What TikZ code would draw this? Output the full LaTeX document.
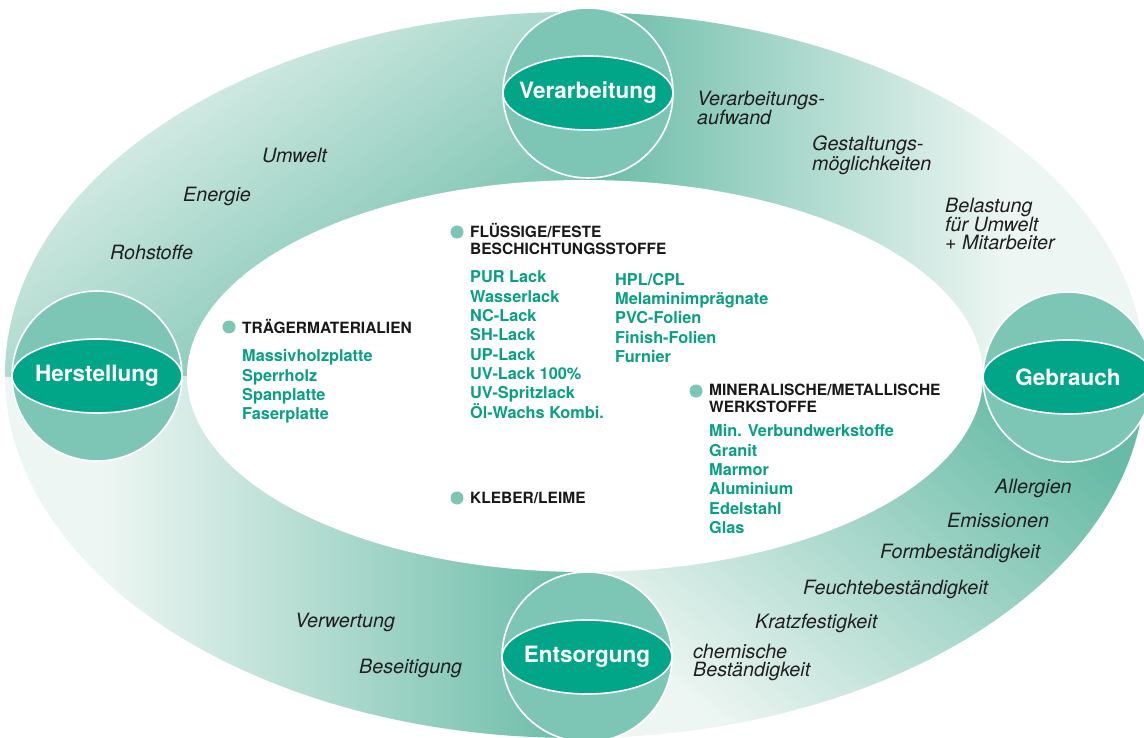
\documentclass[tikz,border=0pt]{standalone}
\usepackage{fontspec}
\setmainfont{TeX Gyre Heros}
\usetikzlibrary{shapes.geometric,positioning}

\definecolor{ballgreen}{RGB}{125,197,181}
\definecolor{bandgreen}{RGB}{0,166,135}
\definecolor{textgreen}{RGB}{8,160,130}
\definecolor{ringdark}{RGB}{104,187,166}
\definecolor{ringlight}{RGB}{238,246,243}

\begin{document}
\begin{tikzpicture}[x=1pt, y=-1pt,
    ball/.style={circle, fill=ballgreen, draw=white, line width=1.6pt, minimum size=170pt, inner sep=0pt},
    band/.style={ellipse, fill=bandgreen, draw=white, line width=1.6pt, minimum width=170pt, minimum height=74pt, inner sep=0pt},
    bandtext/.style={text=white, inner sep=0pt, font=\bfseries\fontsize{22.5}{22.5}\selectfont},
    ringtext/.style={anchor=west, align=left, inner sep=0pt, text=black!88, font=\itshape\fontsize{19.7}{18}\selectfont},
    head/.style={anchor=west, align=left, inner sep=0pt, text=black!90, font=\bfseries\fontsize{15.5}{17}\selectfont},
    items/.style={anchor=north west, align=left, inner sep=0pt, text=textgreen, font=\bfseries\fontsize{16.3}{19.3}\selectfont},
    dot/.style={circle, fill=ballgreen, minimum size=13pt, inner sep=0pt}]

    \useasboundingbox (0,0) rectangle (1144,738);

    % ring, shaded quarter by quarter
    \begin{scope}
        \clip (575,375) ellipse [x radius=570, y radius=363];
        \fill[ringlight] (0,0) rectangle (1144,738);
        \shade[top color=ringlight, bottom color=ringdark, shading angle=35] (0,0) rectangle (585,376);
        \shade[left color=ringdark, right color=ringlight] (585,0) rectangle (1010,376);
        \shade[left color=ringlight, right color=ringdark] (100,376) rectangle (585,738);
        \shade[top color=ringdark, bottom color=ringlight, shading angle=-40] (585,376) rectangle (1144,738);
    \end{scope}
    \fill[white] (585,376) ellipse [x radius=398, y radius=196];

    % texts on the ring
    \node[ringtext] (umwelt) at (262,155) {Umwelt};
    \node[ringtext] (energie) at (183,196) {Energie};
    \node[ringtext] (rohstoffe) at (110,252) {Rohstoffe};
    \node[ringtext] (aufwand) at (697,108) {Verarbeitungs-\\aufwand};
    \node[ringtext] (gestaltung) at (812,155) {Gestaltungs-\\möglichkeiten};
    \node[ringtext] (belastung) at (945,224) {Belastung\\für Umwelt\\+ Mitarbeiter};
    \node[ringtext] (allergien) at (995,488) {Allergien};
    \node[ringtext] (emissionen) at (947,520) {Emissionen};
    \node[ringtext] (form) at (880,553) {Formbeständigkeit};
    \node[ringtext] (feuchte) at (803,589) {Feuchtebeständigkeit};
    \node[ringtext] (kratz) at (755,623) {Kratzfestigkeit};
    \node[ringtext] (chemie) at (693,662) {chemische\\Beständigkeit};
    \node[ringtext] (verwertung) at (295,622) {Verwertung};
    \node[ringtext] (beseitigung) at (359,668) {Beseitigung};

    % the four spheres
    \node[ball] (verarbBall) at (588,93) {};
    \node[band, label={[bandtext]center:Verarbeitung}] (verarb) at (verarbBall) {};

    \node[ball] (herstBall) at (97,376) {};
    \node[band, label={[bandtext]center:Herstellung}] (herst) at (herstBall) {};

    \node[ball] (gebrBall) at (1068,377) {};
    \node[band, label={[bandtext]center:Gebrauch}] (gebr) at (gebrBall) {};

    \node[ball] (entsBall) at (587,657) {};
    \node[band, label={[bandtext]center:Entsorgung}] (ents) at (entsBall) {};

    % materials inside
    \node[dot] (dotTraeger) at (229,327) {};
    \node[head] (traeger) at (242,327) {TRÄGERMATERIALIEN};
    \node[items, below=15pt of traeger.south west, anchor=north west] (traegerList)
        {Massivholzplatte\\Sperrholz\\Spanplatte\\Faserplatte};

    \node[dot] (dotBesch) at (457,232) {};
    \node[head] (besch) at (470,239) {FLÜSSIGE/FESTE\\BESCHICHTUNGSSTOFFE};
    \node[items, below=16pt of besch.south west, anchor=north west] (lackList)
        {PUR Lack\\Wasserlack\\NC-Lack\\SH-Lack\\UP-Lack\\UV-Lack 100\%\\UV-Spritzlack\\Öl-Wachs Kombi.};
    \node[items] (folienList) at (615,273)
        {HPL/CPL\\Melaminimprägnate\\PVC-Folien\\Finish-Folien\\Furnier};

    \node[dot] (dotMineral) at (696,391) {};
    \node[head] (mineral) at (709,398) {MINERALISCHE/METALLISCHE\\WERKSTOFFE};
    \node[items, below=12pt of mineral.south west, anchor=north west] (mineralList)
        {Min. Verbundwerkstoffe\\Granit\\Marmor\\Aluminium\\Edelstahl\\Glas};

    \node[dot] (dotKleber) at (457,498) {};
    \node[head] (kleber) at (470,498) {KLEBER/LEIME};

\end{tikzpicture}
\end{document}
